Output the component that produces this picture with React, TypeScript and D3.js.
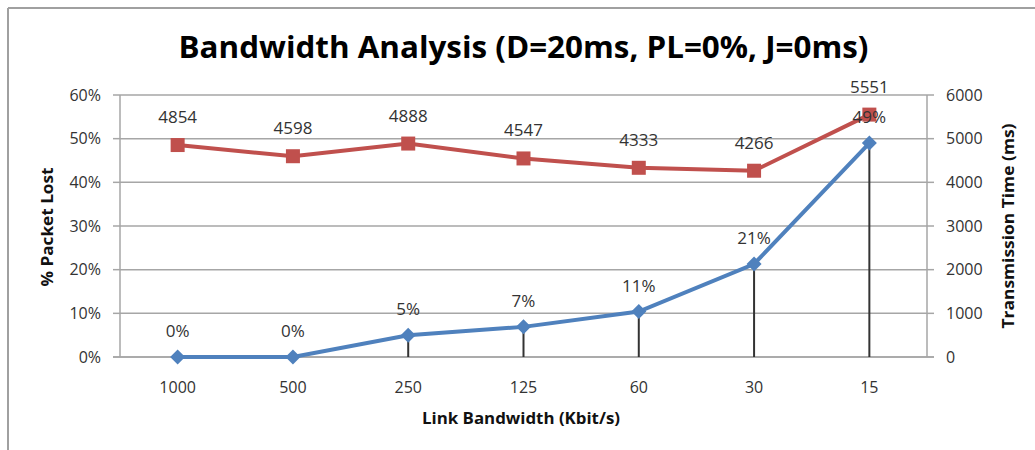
import React from "react";
import * as d3 from "d3";

const categories = ["1000", "500", "250", "125", "60", "30", "15"];
const packetLost = [0, 0, 0.05, 0.069, 0.104, 0.213, 0.49];
const packetLostLabels = ["0%", "0%", "5%", "7%", "11%", "21%", "49%"];
const transmissionTime = [4854, 4598, 4888, 4547, 4333, 4266, 5551];
const leftTicks = [0, 0.1, 0.2, 0.3, 0.4, 0.5, 0.6];
const rightTicks = [0, 1000, 2000, 3000, 4000, 5000, 6000];

const W = 1035;
const H = 450;
const plot = { left: 120, right: 927, top: 95, bottom: 357 };
const FONT = "'Open Sans', 'Noto Sans', sans-serif";
const BLUE = "#4F81BD";
const RED = "#C0504D";
const GRID = "#a6a6a6";

export default function App() {
  const x = d3
    .scaleBand<string>()
    .domain(categories)
    .range([plot.left, plot.right])
    .padding(0);
  const cx = (c: string) => (x(c) as number) + x.bandwidth() / 2;
  const yL = d3.scaleLinear().domain([0, 0.6]).range([plot.bottom, plot.top]);
  const yR = d3.scaleLinear().domain([0, 6000]).range([plot.bottom, plot.top]);

  const blueLine = d3
    .line<number>()
    .x((_, i) => cx(categories[i]))
    .y((d) => yL(d));
  const redLine = d3
    .line<number>()
    .x((_, i) => cx(categories[i]))
    .y((d) => yR(d));

  const pctFmt = d3.format(".0%");

  return (
    <svg
      width={W}
      height={H}
      style={{ position: "absolute", left: 0, top: 0, background: "#fff" }}
    >
      {/* frame */}
      <line x1={8} y1={8} x2={W} y2={8} stroke="#a0a0a0" strokeWidth={2} />
      <line x1={8} y1={8} x2={8} y2={H} stroke="#a0a0a0" strokeWidth={2} />

      {/* title */}
      <text
        x={(plot.left + plot.right) / 2}
        y={58}
        textAnchor="middle"
        fontFamily={FONT}
        fontWeight={700}
        fontSize={30}
        textLength={690}
        lengthAdjust="spacingAndGlyphs"
        fill="#000"
      >
        Bandwidth Analysis (D=20ms, PL=0%, J=0ms)
      </text>

      {/* gridlines */}
      {leftTicks.map((t) => (
        <line
          key={"g" + t}
          x1={plot.left}
          x2={plot.right}
          y1={yL(t)}
          y2={yL(t)}
          stroke={GRID}
          strokeWidth={1.5}
        />
      ))}

      {/* left axis */}
      <line x1={plot.left} x2={plot.left} y1={plot.top} y2={plot.bottom} stroke={GRID} strokeWidth={1.5} />
      {leftTicks.map((t) => (
        <g key={"l" + t}>
          <line x1={plot.left - 7} x2={plot.left} y1={yL(t)} y2={yL(t)} stroke={GRID} strokeWidth={1.5} />
          <text
            x={101}
            y={yL(t)}
            dy="0.35em"
            textAnchor="end"
            fontFamily={FONT}
            fontSize={16}
            fill="#333"
          >
            {pctFmt(t)}
          </text>
        </g>
      ))}

      {/* right axis */}
      <line x1={plot.right} x2={plot.right} y1={plot.top} y2={plot.bottom} stroke={GRID} strokeWidth={1.5} />
      {rightTicks.map((t) => (
        <g key={"r" + t}>
          <line x1={plot.right} x2={plot.right + 7} y1={yR(t)} y2={yR(t)} stroke={GRID} strokeWidth={1.5} />
          <text
            x={946}
            y={yR(t)}
            dy="0.35em"
            textAnchor="start"
            fontFamily={FONT}
            fontSize={16}
            fill="#333"
          >
            {t}
          </text>
        </g>
      ))}

      {/* x axis */}
      <line x1={plot.left - 7} x2={plot.right + 7} y1={plot.bottom} y2={plot.bottom} stroke={GRID} strokeWidth={1.5} />
      {categories.map((c) => (
        <text
          key={"x" + c}
          x={cx(c)}
          y={393}
          textAnchor="middle"
          fontFamily={FONT}
          fontSize={16}
          fill="#333"
        >
          {c}
        </text>
      ))}

      {/* axis titles */}
      <text
        x={521}
        y={424}
        textAnchor="middle"
        fontFamily={FONT}
        fontWeight={700}
        fontSize={16}
        textLength={198}
        lengthAdjust="spacingAndGlyphs"
        fill="#111"
      >
        Link Bandwidth (Kbit/s)
      </text>
      <text
        transform={`translate(53,227) rotate(-90)`}
        textAnchor="middle"
        fontFamily={FONT}
        fontWeight={700}
        fontSize={16}
        textLength={119}
        lengthAdjust="spacingAndGlyphs"
        fill="#111"
      >
        % Packet Lost
      </text>
      <text
        transform={`translate(1014,226) rotate(-90)`}
        textAnchor="middle"
        fontFamily={FONT}
        fontWeight={700}
        fontSize={16}
        textLength={205}
        lengthAdjust="spacingAndGlyphs"
        fill="#111"
      >
        Transmission  Time (ms)
      </text>

      {/* drop lines */}
      {packetLost.map((v, i) => (
        <line
          key={"d" + i}
          x1={cx(categories[i])}
          x2={cx(categories[i])}
          y1={yL(v)}
          y2={plot.bottom}
          stroke="#333"
          strokeWidth={2}
        />
      ))}

      {/* red series */}
      <path d={redLine(transmissionTime) || ""} fill="none" stroke={RED} strokeWidth={4} />
      {transmissionTime.map((v, i) => (
        <rect
          key={"rm" + i}
          x={cx(categories[i]) - 7}
          y={yR(v) - 7}
          width={14}
          height={14}
          fill={RED}
        />
      ))}

      {/* blue series */}
      <path d={blueLine(packetLost) || ""} fill="none" stroke={BLUE} strokeWidth={4} />
      {packetLost.map((v, i) => {
        const px = cx(categories[i]);
        const py = yL(v);
        return (
          <path
            key={"bm" + i}
            d={`M${px},${py - 7.5}L${px + 7.5},${py}L${px},${py + 7.5}L${px - 7.5},${py}Z`}
            fill={BLUE}
          />
        );
      })}

      {/* data labels */}
      {transmissionTime.map((v, i) => (
        <text
          key={"rl" + i}
          x={cx(categories[i])}
          y={yR(v) - 22}
          textAnchor="middle"
          fontFamily={FONT}
          fontSize={17}
          fill="#333"
        >
          {v}
        </text>
      ))}
      {packetLost.map((v, i) => (
        <text
          key={"bl" + i}
          x={cx(categories[i])}
          y={yL(v) - 20}
          textAnchor="middle"
          fontFamily={FONT}
          fontSize={17}
          fill="#333"
        >
          {packetLostLabels[i]}
        </text>
      ))}
    </svg>
  );
}
